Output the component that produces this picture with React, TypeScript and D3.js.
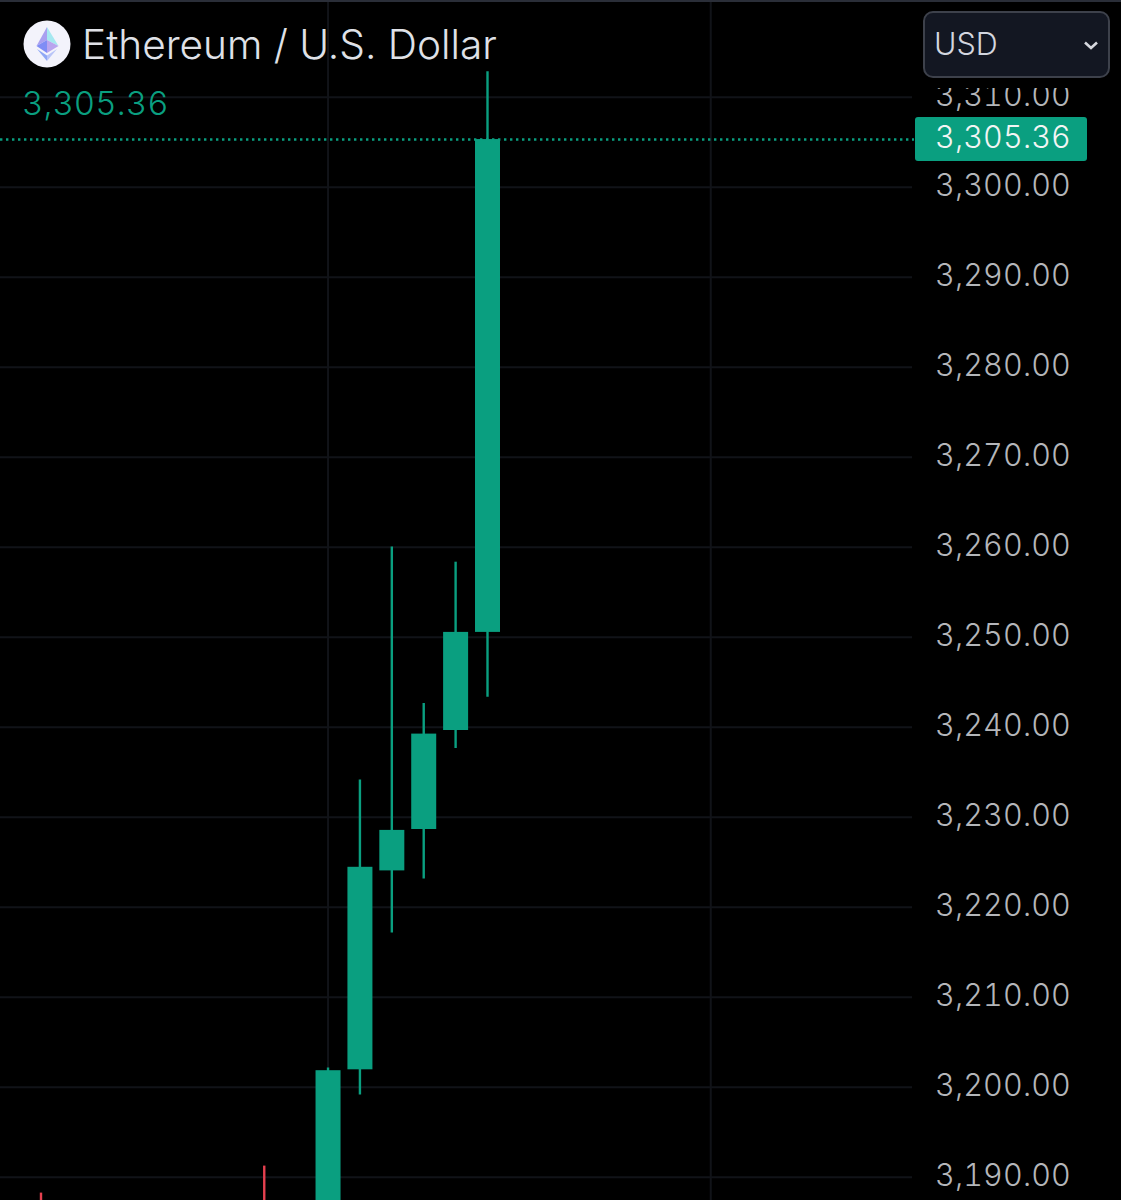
import React from "react";
import * as d3 from "d3";

const W = 1121, H = 1200;
const priceTicks = [3190, 3200, 3210, 3220, 3230, 3240, 3250, 3260, 3270, 3280, 3290, 3300, 3310];
const slots = [0, 7, 9, 10, 11, 12, 13, 14];
const opens = [3185, 3185, 3185, 3202, 3224.1, 3228.7, 3239.7, 3250.6];
const closes = [3180, 3180, 3201.9, 3224.5, 3228.6, 3239.3, 3250.6, 3305.36];
const highs = [3188.3, 3191.3, 3202.2, 3234.2, 3260.1, 3242.7, 3258.4, 3312.9];
const lows = [3178, 3178, 3180, 3199.2, 3217.2, 3223.2, 3237.7, 3243.4];
const lastPrice = 3305.36;
const verticalGridSlots = [9, 21];
const title = "Ethereum / U.S. Dollar";
const currency = "USD";

const UP = "#0a9f80";
const DOWN = "#e5404f";
const GRID = "#111318";
const FONT = "Inter, 'Noto Sans', sans-serif";

const y = d3.scaleLinear().domain([3190, 3310]).range([1177.3, 97.3]);
const x = d3.scaleLinear().domain([0, 14]).range([41, 487.5]);
const fmt = d3.format(",.2f");
const tab: React.CSSProperties = { fontVariantNumeric: "tabular-nums", fontWeight: 300 };

export default function App() {
  const bodyW = 25;
  const candles = d3.range(slots.length);
  return (
    <svg width={W} height={H} viewBox={`0 0 ${W} ${H}`}
      style={{ position: "fixed", left: 0, top: 0, background: "#000", display: "block" }}>
      <defs>
        <clipPath id="ax"><rect x={900} y={88} width={221} height={H} /></clipPath>
      </defs>
      <rect width={W} height={H} fill="#000" />
      <rect width={W} height={2} fill="#2a2e38" />
      {priceTicks.map(t => (
        <line key={t} x1={0} x2={912} y1={y(t)} y2={y(t)} stroke={GRID} strokeWidth={2} />
      ))}
      {verticalGridSlots.map(s => (
        <line key={s} x1={x(s)} x2={x(s)} y1={2} y2={H} stroke={GRID} strokeWidth={2} />
      ))}
      <line x1={0} x2={914} y1={Math.round(y(lastPrice)) + 0.5} y2={Math.round(y(lastPrice)) + 0.5} stroke={UP} strokeWidth={2.6} strokeDasharray="2.4 3.6" />
      {candles.map(i => {
        const c = closes[i] >= opens[i] ? UP : DOWN;
        const top = y(Math.max(opens[i], closes[i]));
        const bot = y(Math.min(opens[i], closes[i]));
        return (
          <g key={i}>
            <line x1={x(slots[i])} x2={x(slots[i])} y1={y(highs[i])} y2={y(lows[i])} stroke={c} strokeWidth={2.4} />
            <rect x={x(slots[i]) - bodyW / 2} y={top} width={bodyW} height={bot - top} fill={c} />
          </g>
        );
      })}
      <g clipPath="url(#ax)">
        {priceTicks.map(t => (
          <text key={t} x={1071} y={y(t)} dy={9} textAnchor="end" fontFamily={FONT} fontSize={30.5} fill="#b4b6ba" letterSpacing={0.15} style={tab}>{fmt(t)}</text>
        ))}
      </g>
      <rect x={915} y={117} width={172} height={44} rx={3} fill={UP} />
      <text x={1071} y={y(lastPrice)} dy={9} textAnchor="end" fontFamily={FONT} fontSize={30.5} fill="#f2f5f4" letterSpacing={0.15} style={tab}>{fmt(lastPrice)}</text>

      <circle cx={47} cy={44} r={23.5} fill="#f3f3fb" />
      <polygon points="47,27 58.5,46 47,40" fill="#a5e8f0" />
      <polygon points="47,27 36.5,46 47,40" fill="#a9a0f0" />
      <polygon points="47,40 58.5,46 47,53" fill="#b9a5ee" />
      <polygon points="47,40 36.5,46 47,53" fill="#7f8df5" />
      <polygon points="37,49 47,55.5 47,61" fill="#8fa8f5" />
      <polygon points="57,49 47,55.5 47,61" fill="#b9c5f8" />

      <text x={82} y={59} fontFamily={FONT} fontSize={40.6} fontWeight={300} fill="#dfe1e7">{title}</text>
      <text x={22} y={115} fontFamily={FONT} fontSize={33} fill={UP} letterSpacing={0.1} style={tab}>{fmt(lastPrice)}</text>

      <rect x={924} y={12} width={185} height={65} rx={9} fill="#131722" stroke="#3d414b" strokeWidth={2} />
      <text x={934} y={55} fontFamily={FONT} fontSize={30.5} fontWeight={300} fill="#d3d6df">{currency}</text>
      <path d="M1085 42.5 L1091 48 L1097 42.5" fill="none" stroke="#d6d8de" strokeWidth={2.6} />
    </svg>
  );
}
